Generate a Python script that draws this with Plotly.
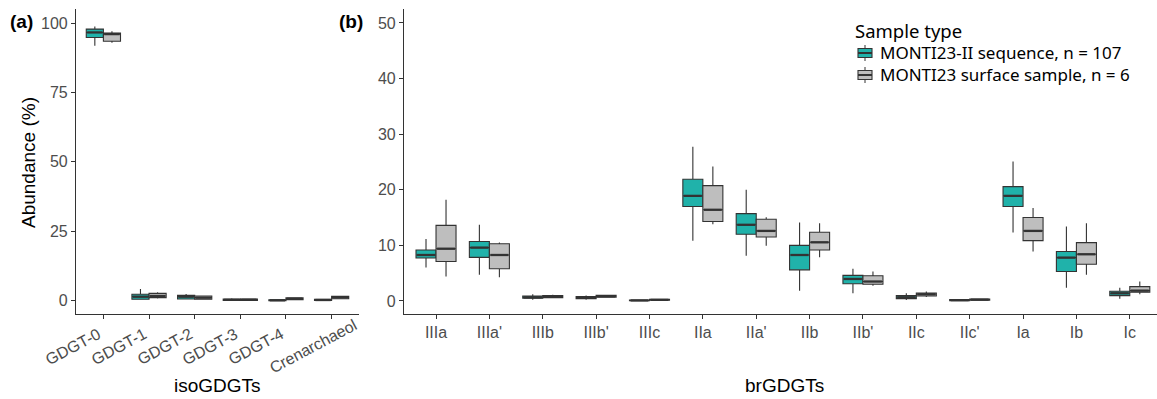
import plotly.graph_objects as go

# ---- isoGDGTs (panel a) ----
iso_cats = ["GDGT-0", "GDGT-1", "GDGT-2", "GDGT-3", "GDGT-4", "Crenarchaeol"]
iso_seq_low = [91.8, 0.3, 0.4, 0.0, 0.0, 0.0]
iso_seq_q1 = [94.8, 0.5, 0.6, 0.05, 0.0, 0.05]
iso_seq_med = [96.6, 1.45, 1.45, 0.3, 0.15, 0.25]
iso_seq_q3 = [97.8, 2.3, 1.9, 0.6, 0.35, 0.5]
iso_seq_high = [98.7, 4.2, 2.4, 0.9, 0.45, 0.6]

iso_surf_low = [92.9, 0.8, 0.4, 0.05, 0.3, 0.6]
iso_surf_q1 = [93.4, 1.1, 0.5, 0.1, 0.35, 0.7]
iso_surf_med = [96.0, 1.7, 1.1, 0.35, 0.7, 1.2]
iso_surf_q3 = [96.4, 2.65, 1.7, 0.6, 1.0, 1.6]
iso_surf_high = [97.0, 3.0, 1.9, 0.7, 1.1, 1.7]

# ---- brGDGTs (panel b) ----
br_cats = ["IIIa", "IIIa'", "IIIb", "IIIb'", "IIIc", "IIa", "IIa'", "IIb", "IIb'",
           "IIc", "IIc'", "Ia", "Ib", "Ic"]
br_seq_low = [6.0, 4.7, 0.2, 0.2, 0.0, 10.85, 8.15, 1.86, 1.38, 0.18, 0.05, 12.3, 2.4, 0.42]
br_seq_q1 = [7.73, 7.85, 0.5, 0.4, 0.05, 17.0, 12.0, 5.6, 3.1, 0.42, 0.06, 17.0, 5.3, 0.96]
br_seq_med = [8.27, 9.6, 0.65, 0.6, 0.1, 18.9, 13.7, 8.27, 3.96, 0.66, 0.15, 18.9, 7.8, 1.38]
br_seq_q3 = [9.17, 10.7, 0.9, 0.8, 0.15, 21.9, 15.7, 10.0, 4.6, 0.96, 0.24, 20.56, 8.9, 1.74]
br_seq_high = [11.15, 13.7, 1.2, 1.0, 0.2, 27.75, 20.0, 14.1, 5.8, 1.4, 0.3, 25.1, 13.4, 2.4]

br_surf_low = [4.4, 4.25, 0.5, 0.6, 0.1, 13.8, 9.95, 7.85, 2.76, 0.7, 0.1, 8.9, 4.7, 1.2]
br_surf_q1 = [7.1, 5.8, 0.6, 0.7, 0.15, 14.3, 11.5, 9.17, 3.0, 0.9, 0.12, 10.85, 6.6, 1.56]
br_surf_med = [9.4, 8.27, 0.8, 0.85, 0.2, 16.4, 12.6, 10.55, 3.5, 1.2, 0.24, 12.6, 8.4, 1.86]
br_surf_q3 = [13.6, 10.3, 0.96, 1.0, 0.3, 20.75, 14.7, 12.35, 4.55, 1.44, 0.36, 15.0, 10.5, 2.58]
br_surf_high = [18.2, 10.5, 1.1, 1.0, 0.35, 24.2, 15.05, 13.97, 5.3, 1.7, 0.4, 16.7, 13.97, 3.5]

legend_title = "Sample type"
seq_name = "MONTI23-II sequence, n = 107"
surf_name = "MONTI23 surface sample, n = 6"
TEAL = "#20B2AA"
GREY = "#BEBEBE"
EDGE = "#333333"
BOX_W = 0.375  # each box takes half of a 0.75 dodge width

W, H = 1157, 399
ML, MR, MT, MB = 76, 0, 9, 85
PW = W - ML - MR
PH = H - MT - MB


def px_x(px):
    return (px - ML) / PW


def px_y(py):
    return (H - MB - py) / PH


fig = go.Figure()


def add_group(cats, stats, name, color, side, xa, ya):
    low, q1, med, q3, high = stats
    pos = [i + 1 + side * BOX_W / 2 for i in range(len(cats))]
    fig.add_trace(go.Box(
        x=pos, lowerfence=low, q1=q1, median=med, q3=q3, upperfence=high,
        width=BOX_W, name=name, showlegend=False,
        fillcolor=color, line=dict(color=EDGE, width=1.1), whiskerwidth=0,
        boxpoints=False, hoverinfo="y", xaxis=xa, yaxis=ya,
    ))
    # thicker median bar
    mx, my = [], []
    for p, m in zip(pos, med):
        mx += [p - BOX_W / 2 + 0.02, p + BOX_W / 2 - 0.02, None]
        my += [m, m, None]
    fig.add_trace(go.Scatter(
        x=mx, y=my, mode="lines", line=dict(color=EDGE, width=2.3),
        showlegend=False, hoverinfo="skip", xaxis=xa, yaxis=ya,
    ))


add_group(iso_cats, (iso_seq_low, iso_seq_q1, iso_seq_med, iso_seq_q3, iso_seq_high),
          seq_name, TEAL, -1, "x", "y")
add_group(iso_cats, (iso_surf_low, iso_surf_q1, iso_surf_med, iso_surf_q3, iso_surf_high),
          surf_name, GREY, 1, "x", "y")
add_group(br_cats, (br_seq_low, br_seq_q1, br_seq_med, br_seq_q3, br_seq_high),
          seq_name, TEAL, -1, "x2", "y2")
add_group(br_cats, (br_surf_low, br_surf_q1, br_surf_med, br_surf_q3, br_surf_high),
          surf_name, GREY, 1, "x2", "y2")

SANS = "Liberation Sans, Arial, sans-serif"
TICK_FONT = dict(family=SANS, size=16, color="#4D4D4D")
axis_common = dict(showline=True, linecolor=EDGE, linewidth=1.1, ticks="outside",
                   ticklen=4, tickcolor=EDGE, tickwidth=1.1, showgrid=False,
                   zeroline=False, tickfont=TICK_FONT)

fig.update_layout(
    width=W, height=H,
    margin=dict(l=ML, r=MR, t=MT, b=MB),
    paper_bgcolor="white", plot_bgcolor="white",
    boxmode="overlay", showlegend=False,
    xaxis=dict(domain=[0, px_x(359)], range=[0.4, 6.6],
               tickvals=list(range(1, len(iso_cats) + 1)), showticklabels=False,
               anchor="y", **axis_common),
    yaxis=dict(domain=[0, 1], range=[-4.79, 105.04], tickvals=[0, 25, 50, 75, 100],
               anchor="x", **axis_common),
    xaxis2=dict(domain=[px_x(404), 1], range=[0.4, 14.51],
                tickvals=list(range(1, len(br_cats) + 1)), ticktext=br_cats,
                anchor="y2", **axis_common),
    yaxis2=dict(domain=[0, 1], range=[-2.34, 52.5], tickvals=[0, 10, 20, 30, 40, 50],
                anchor="x2", **axis_common),
)

# slanted category labels under panel (a), centred a little left of each tick
for i, lab in enumerate(iso_cats):
    fig.add_annotation(
        text=lab, xref="x", yref="paper", x=i + 1, y=px_y(346),
        xshift=-30 + 1.83 * (len(lab) - 6), xanchor="center", yanchor="middle",
        textangle=-28, showarrow=False, font=TICK_FONT,
    )

TITLE_FONT = dict(family=SANS, size=19, color="black")
notes = [
    dict(text="isoGDGTs", x=217.5, y=385, font=TITLE_FONT, anchor="center"),
    dict(text="brGDGTs", x=784, y=385, font=TITLE_FONT, anchor="center"),
    dict(text="Abundance (%)", x=29, y=163, font=TITLE_FONT, anchor="center", angle=-90),
    dict(text="<b>(a)</b>", x=21.5, y=21.5, font=TITLE_FONT, anchor="center"),
    dict(text="<b>(b)</b>", x=351, y=21.5, font=TITLE_FONT, anchor="center"),
]

# legend drawn as a key: title, then a box glyph + label per sample type
LEG_FONT = dict(family="Noto Sans", size=17, color="black")
notes.append(dict(text=legend_title, x=853, y=30,
                  font=dict(family="Noto Sans", size=18.5, color="black"), anchor="left"))
for row_y, label, color in [(53, seq_name, TEAL), (75, surf_name, GREY)]:
    notes.append(dict(text=label, x=878, y=row_y, font=LEG_FONT, anchor="left"))
    cx = 865
    fig.add_shape(type="line", xref="paper", yref="paper",
                  x0=px_x(cx), x1=px_x(cx), y0=px_y(row_y - 8), y1=px_y(row_y + 8),
                  line=dict(color=EDGE, width=1))
    fig.add_shape(type="rect", xref="paper", yref="paper",
                  x0=px_x(cx - 7), x1=px_x(cx + 7), y0=px_y(row_y - 4.5), y1=px_y(row_y + 4.5),
                  fillcolor=color, line=dict(color=EDGE, width=1.1))
    fig.add_shape(type="line", xref="paper", yref="paper",
                  x0=px_x(cx - 7), x1=px_x(cx + 7), y0=px_y(row_y), y1=px_y(row_y),
                  line=dict(color=EDGE, width=2))

for n in notes:
    fig.add_annotation(
        text=n["text"], xref="paper", yref="paper",
        x=px_x(n["x"]), y=px_y(n["y"]),
        xanchor=n["anchor"], yanchor="middle", showarrow=False,
        font=n["font"], textangle=n.get("angle", 0),
    )

fig.write_html("out.html")
